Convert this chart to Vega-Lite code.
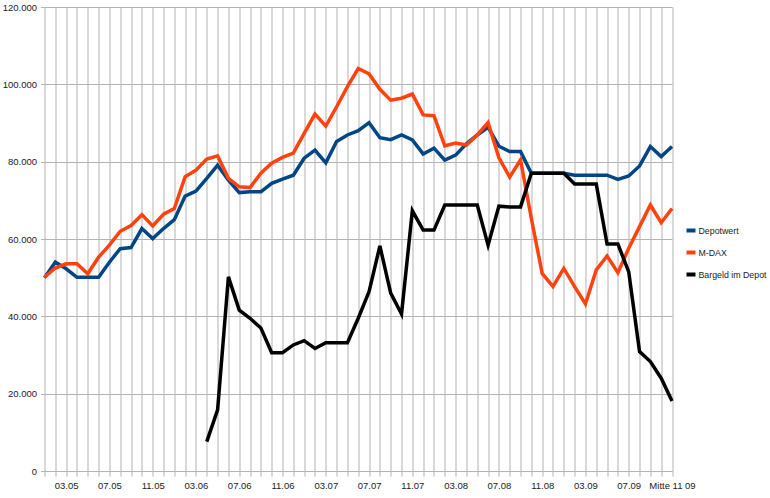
{
  "$schema": "https://vega.github.io/schema/vega-lite/v6.json",
  "width": 627.5,
  "height": 464,
  "autosize": "none",
  "padding": {"left": 44.5, "top": 7, "right": 98, "bottom": 27},
  "background": "#ffffff",
  "config": {
    "view": {"stroke": null},
    "font": "Liberation Sans",
    "axis": {
      "labelFont": "Liberation Sans",
      "labelFontSize": 9.5,
      "labelColor": "#222222",
      "gridColor": "#b3b3b3",
      "gridWidth": 1,
      "gridOpacity": 1,
      "domainColor": "#b3b3b3",
      "tickColor": "#b3b3b3",
      "titleFontSize": 0
    }
  },
  "data": {
    "values": [
      {"m": "01.05", "s": "Depotwert", "v": 50000},
      {"m": "02.05", "s": "Depotwert", "v": 54000},
      {"m": "03.05", "s": "Depotwert", "v": 52300},
      {"m": "04.05", "s": "Depotwert", "v": 50100},
      {"m": "05.05", "s": "Depotwert", "v": 50100},
      {"m": "06.05", "s": "Depotwert", "v": 50100},
      {"m": "07.05", "s": "Depotwert", "v": 54000},
      {"m": "08.05", "s": "Depotwert", "v": 57500},
      {"m": "09.05", "s": "Depotwert", "v": 57800},
      {"m": "10.05", "s": "Depotwert", "v": 62700},
      {"m": "11.05", "s": "Depotwert", "v": 60100},
      {"m": "12.05", "s": "Depotwert", "v": 62700},
      {"m": "01.06", "s": "Depotwert", "v": 65000},
      {"m": "02.06", "s": "Depotwert", "v": 71100},
      {"m": "03.06", "s": "Depotwert", "v": 72400},
      {"m": "04.06", "s": "Depotwert", "v": 75700},
      {"m": "05.06", "s": "Depotwert", "v": 79100},
      {"m": "06.06", "s": "Depotwert", "v": 75200},
      {"m": "07.06", "s": "Depotwert", "v": 72000},
      {"m": "08.06", "s": "Depotwert", "v": 72200},
      {"m": "09.06", "s": "Depotwert", "v": 72200},
      {"m": "10.06", "s": "Depotwert", "v": 74400},
      {"m": "11.06", "s": "Depotwert", "v": 75500},
      {"m": "12.06", "s": "Depotwert", "v": 76500},
      {"m": "01.07", "s": "Depotwert", "v": 80900},
      {"m": "02.07", "s": "Depotwert", "v": 83000},
      {"m": "03.07", "s": "Depotwert", "v": 79700},
      {"m": "04.07", "s": "Depotwert", "v": 85200},
      {"m": "05.07", "s": "Depotwert", "v": 86900},
      {"m": "06.07", "s": "Depotwert", "v": 88000},
      {"m": "07.07", "s": "Depotwert", "v": 90100},
      {"m": "08.07", "s": "Depotwert", "v": 86200},
      {"m": "09.07", "s": "Depotwert", "v": 85700},
      {"m": "10.07", "s": "Depotwert", "v": 86900},
      {"m": "11.07", "s": "Depotwert", "v": 85600},
      {"m": "12.07", "s": "Depotwert", "v": 82000},
      {"m": "01.08", "s": "Depotwert", "v": 83500},
      {"m": "02.08", "s": "Depotwert", "v": 80400},
      {"m": "03.08", "s": "Depotwert", "v": 81700},
      {"m": "04.08", "s": "Depotwert", "v": 84600},
      {"m": "05.08", "s": "Depotwert", "v": 86900},
      {"m": "06.08", "s": "Depotwert", "v": 88900},
      {"m": "07.08", "s": "Depotwert", "v": 84000},
      {"m": "08.08", "s": "Depotwert", "v": 82600},
      {"m": "09.08", "s": "Depotwert", "v": 82600},
      {"m": "10.08", "s": "Depotwert", "v": 77000},
      {"m": "11.08", "s": "Depotwert", "v": 77000},
      {"m": "12.08", "s": "Depotwert", "v": 77000},
      {"m": "01.09", "s": "Depotwert", "v": 77000},
      {"m": "02.09", "s": "Depotwert", "v": 76500},
      {"m": "03.09", "s": "Depotwert", "v": 76500},
      {"m": "04.09", "s": "Depotwert", "v": 76500},
      {"m": "05.09", "s": "Depotwert", "v": 76500},
      {"m": "06.09", "s": "Depotwert", "v": 75400},
      {"m": "07.09", "s": "Depotwert", "v": 76300},
      {"m": "08.09", "s": "Depotwert", "v": 78900},
      {"m": "09.09", "s": "Depotwert", "v": 83900},
      {"m": "10.09", "s": "Depotwert", "v": 81300},
      {"m": "Mitte 11 09", "s": "Depotwert", "v": 83900},

      {"m": "01.05", "s": "M-DAX", "v": 50100},
      {"m": "02.05", "s": "M-DAX", "v": 52500},
      {"m": "03.05", "s": "M-DAX", "v": 53600},
      {"m": "04.05", "s": "M-DAX", "v": 53600},
      {"m": "05.05", "s": "M-DAX", "v": 51000},
      {"m": "06.05", "s": "M-DAX", "v": 55300},
      {"m": "07.05", "s": "M-DAX", "v": 58400},
      {"m": "08.05", "s": "M-DAX", "v": 62000},
      {"m": "09.05", "s": "M-DAX", "v": 63500},
      {"m": "10.05", "s": "M-DAX", "v": 66300},
      {"m": "11.05", "s": "M-DAX", "v": 63400},
      {"m": "12.05", "s": "M-DAX", "v": 66400},
      {"m": "01.06", "s": "M-DAX", "v": 67900},
      {"m": "02.06", "s": "M-DAX", "v": 76100},
      {"m": "03.06", "s": "M-DAX", "v": 77800},
      {"m": "04.06", "s": "M-DAX", "v": 80700},
      {"m": "05.06", "s": "M-DAX", "v": 81500},
      {"m": "06.06", "s": "M-DAX", "v": 75700},
      {"m": "07.06", "s": "M-DAX", "v": 73500},
      {"m": "08.06", "s": "M-DAX", "v": 73300},
      {"m": "09.06", "s": "M-DAX", "v": 77000},
      {"m": "10.06", "s": "M-DAX", "v": 79600},
      {"m": "11.06", "s": "M-DAX", "v": 81100},
      {"m": "12.06", "s": "M-DAX", "v": 82200},
      {"m": "01.07", "s": "M-DAX", "v": 87300},
      {"m": "02.07", "s": "M-DAX", "v": 92300},
      {"m": "03.07", "s": "M-DAX", "v": 89200},
      {"m": "04.07", "s": "M-DAX", "v": 94200},
      {"m": "05.07", "s": "M-DAX", "v": 99400},
      {"m": "06.07", "s": "M-DAX", "v": 104100},
      {"m": "07.07", "s": "M-DAX", "v": 102700},
      {"m": "08.07", "s": "M-DAX", "v": 98700},
      {"m": "09.07", "s": "M-DAX", "v": 95900},
      {"m": "10.07", "s": "M-DAX", "v": 96400},
      {"m": "11.07", "s": "M-DAX", "v": 97500},
      {"m": "12.07", "s": "M-DAX", "v": 92100},
      {"m": "01.08", "s": "M-DAX", "v": 91900},
      {"m": "02.08", "s": "M-DAX", "v": 84100},
      {"m": "03.08", "s": "M-DAX", "v": 84800},
      {"m": "04.08", "s": "M-DAX", "v": 84300},
      {"m": "05.08", "s": "M-DAX", "v": 86900},
      {"m": "06.08", "s": "M-DAX", "v": 90100},
      {"m": "07.08", "s": "M-DAX", "v": 81000},
      {"m": "08.08", "s": "M-DAX", "v": 76000},
      {"m": "09.08", "s": "M-DAX", "v": 80500},
      {"m": "10.08", "s": "M-DAX", "v": 65300},
      {"m": "11.08", "s": "M-DAX", "v": 51100},
      {"m": "12.08", "s": "M-DAX", "v": 47700},
      {"m": "01.09", "s": "M-DAX", "v": 52400},
      {"m": "02.09", "s": "M-DAX", "v": 47700},
      {"m": "03.09", "s": "M-DAX", "v": 43200},
      {"m": "04.09", "s": "M-DAX", "v": 52000},
      {"m": "05.09", "s": "M-DAX", "v": 55600},
      {"m": "06.09", "s": "M-DAX", "v": 51300},
      {"m": "07.09", "s": "M-DAX", "v": 57600},
      {"m": "08.09", "s": "M-DAX", "v": 63200},
      {"m": "09.09", "s": "M-DAX", "v": 68800},
      {"m": "10.09", "s": "M-DAX", "v": 64200},
      {"m": "Mitte 11 09", "s": "M-DAX", "v": 67900},

      {"m": "04.06", "s": "Bargeld im Depot", "v": 7600},
      {"m": "05.06", "s": "Bargeld im Depot", "v": 15800},
      {"m": "06.06", "s": "Bargeld im Depot", "v": 50200},
      {"m": "07.06", "s": "Bargeld im Depot", "v": 41600},
      {"m": "08.06", "s": "Bargeld im Depot", "v": 39500},
      {"m": "09.06", "s": "Bargeld im Depot", "v": 37000},
      {"m": "10.06", "s": "Bargeld im Depot", "v": 30600},
      {"m": "11.06", "s": "Bargeld im Depot", "v": 30600},
      {"m": "12.06", "s": "Bargeld im Depot", "v": 32600},
      {"m": "01.07", "s": "Bargeld im Depot", "v": 33700},
      {"m": "02.07", "s": "Bargeld im Depot", "v": 31700},
      {"m": "03.07", "s": "Bargeld im Depot", "v": 33200},
      {"m": "04.07", "s": "Bargeld im Depot", "v": 33200},
      {"m": "05.07", "s": "Bargeld im Depot", "v": 33200},
      {"m": "06.07", "s": "Bargeld im Depot", "v": 39500},
      {"m": "07.07", "s": "Bargeld im Depot", "v": 46400},
      {"m": "08.07", "s": "Bargeld im Depot", "v": 58200},
      {"m": "09.07", "s": "Bargeld im Depot", "v": 46000},
      {"m": "10.07", "s": "Bargeld im Depot", "v": 40600},
      {"m": "11.07", "s": "Bargeld im Depot", "v": 67300},
      {"m": "12.07", "s": "Bargeld im Depot", "v": 62300},
      {"m": "01.08", "s": "Bargeld im Depot", "v": 62300},
      {"m": "02.08", "s": "Bargeld im Depot", "v": 68800},
      {"m": "03.08", "s": "Bargeld im Depot", "v": 68800},
      {"m": "04.08", "s": "Bargeld im Depot", "v": 68800},
      {"m": "05.08", "s": "Bargeld im Depot", "v": 68800},
      {"m": "06.08", "s": "Bargeld im Depot", "v": 58400},
      {"m": "07.08", "s": "Bargeld im Depot", "v": 68500},
      {"m": "08.08", "s": "Bargeld im Depot", "v": 68300},
      {"m": "09.08", "s": "Bargeld im Depot", "v": 68300},
      {"m": "10.08", "s": "Bargeld im Depot", "v": 77000},
      {"m": "11.08", "s": "Bargeld im Depot", "v": 77000},
      {"m": "12.08", "s": "Bargeld im Depot", "v": 77000},
      {"m": "01.09", "s": "Bargeld im Depot", "v": 77000},
      {"m": "02.09", "s": "Bargeld im Depot", "v": 74200},
      {"m": "03.09", "s": "Bargeld im Depot", "v": 74200},
      {"m": "04.09", "s": "Bargeld im Depot", "v": 74200},
      {"m": "05.09", "s": "Bargeld im Depot", "v": 58700},
      {"m": "06.09", "s": "Bargeld im Depot", "v": 58700},
      {"m": "07.09", "s": "Bargeld im Depot", "v": 51500},
      {"m": "08.09", "s": "Bargeld im Depot", "v": 30900},
      {"m": "09.09", "s": "Bargeld im Depot", "v": 28300},
      {"m": "10.09", "s": "Bargeld im Depot", "v": 24000},
      {"m": "Mitte 11 09", "s": "Bargeld im Depot", "v": 18100}
    ]
  },
  "mark": {"type": "line", "strokeWidth": 3.5, "strokeJoin": "miter", "strokeCap": "butt"},
  "encoding": {
    "x": {
      "field": "m",
      "type": "ordinal",
      "sort": null,
      "scale": {"type": "point", "padding": 0},
      "axis": {
        "title": null,
        "labelAngle": 0,
        "labelOverlap": false,
        "grid": true,
        "ticks": true,
        "tickSize": 5,
        "labelPadding": 4,
        "labelExpr": "datum.value == 'Mitte 11 09' || indexof(['03','07','11'], substring(datum.value, 0, 2)) >= 0 ? datum.value : ''"
      }
    },
    "y": {
      "field": "v",
      "type": "quantitative",
      "scale": {"domain": [0, 120000], "nice": false},
      "axis": {
        "title": null,
        "values": [0, 20000, 40000, 60000, 80000, 100000, 120000],
        "tickSize": 4,
        "labelPadding": 4,
        "domain": false,
        "labelExpr": "replace(format(datum.value, ','), ',', '.')"
      }
    },
    "color": {
      "field": "s",
      "type": "nominal",
      "scale": {
        "domain": ["Depotwert", "M-DAX", "Bargeld im Depot"],
        "range": ["#004586", "#ff420e", "#000000"]
      },
      "legend": {
        "title": null,
        "orient": "none",
        "legendX": 640,
        "legendY": 217,
        "padding": 0,
        "symbolType": "stroke",
        "symbolSize": 81,
        "symbolStrokeWidth": 4,
        "labelFont": "Liberation Sans",
        "labelFontSize": 8.8,
        "labelColor": "#222222",
        "labelOffset": 1,
        "labelLimit": 200,
        "rowPadding": 5
      }
    }
  }
}
